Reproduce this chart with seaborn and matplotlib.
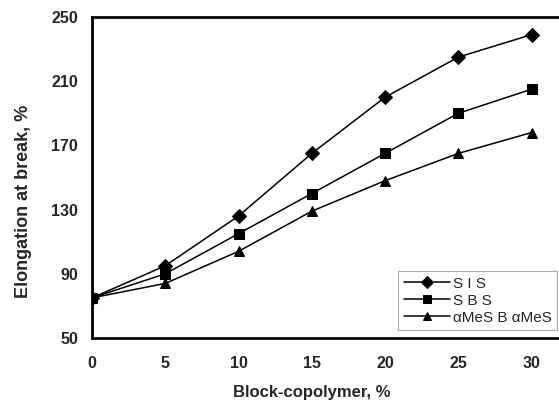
import matplotlib
matplotlib.use("Agg")
import matplotlib.pyplot as plt
import seaborn as sns
import pandas as pd

block_copolymer = [0, 5, 10, 15, 20, 25, 30]
sis = [75, 95, 126, 165, 200, 225, 239]
sbs = [75, 90, 115, 140, 165, 190, 205]
ames = [75, 84, 104, 129, 148, 165, 178]
series_names = ["S I S", "S B S", "\u03b1MeS B \u03b1MeS"]
x_ticks = [0, 5, 10, 15, 20, 25, 30]
y_ticks = [50, 90, 130, 170, 210, 250]

sns.set_style("white")
plt.rcParams['font.family'] = ['Liberation Sans', 'DejaVu Sans']

df = pd.DataFrame({
    "x": block_copolymer * 3,
    "y": sis + sbs + ames,
    "series": [series_names[0]] * 7 + [series_names[1]] * 7 + [series_names[2]] * 7,
})

fig = plt.figure(figsize=(5.59, 4.0), dpi=100)
ax = fig.add_axes([0.1646, 0.155, 0.84, 0.8025])

sns.lineplot(data=df, x="x", y="y", hue="series", style="series",
             palette=["black"] * 3, markers=["D", "s", "^"], dashes=False,
             markersize=7, linewidth=1.1, markeredgecolor="black", ax=ax)

ax.set_xlim(0, 32.05)
ax.set_ylim(50, 250)
ax.set_xticks(x_ticks)
ax.set_yticks(y_ticks)
for lbl in ax.get_xticklabels() + ax.get_yticklabels():
    lbl.set_fontweight("bold")
    lbl.set_fontsize(11.5)
ax.tick_params(axis="x", direction="out", length=3, width=0.8, color="#555555", pad=10)
ax.tick_params(axis="y", length=0, pad=10)
ax.set_xlabel("Block-copolymer, %", fontsize=12, fontweight="bold")
ax.set_ylabel("Elongation at break, %", fontsize=13, fontweight="bold")
ax.xaxis.set_label_coords(0.468, -0.145)
ax.yaxis.set_label_coords(-0.128, 0.425)

for s in ["left", "bottom", "top"]:
    ax.spines[s].set_linewidth(2)
    ax.spines[s].set_color("black")
ax.spines["right"].set_visible(False)

leg = ax.legend(loc="lower right", bbox_to_anchor=(0.99, 0.025), borderaxespad=0,
                fontsize=11, frameon=True, fancybox=False, edgecolor="#999999",
                handlelength=3.0, handletextpad=0.2, borderpad=0.35, labelspacing=0.2,
                markerscale=0.85)
leg.get_frame().set_linewidth(0.8)

fig.savefig("out.png", dpi=100)
